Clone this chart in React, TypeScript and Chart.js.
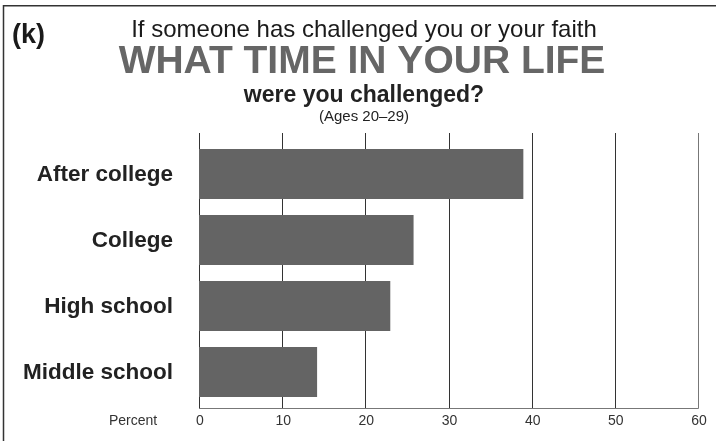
import React, { useEffect, useRef } from "react";
import { Chart, registerables } from "chart.js";

Chart.register(...registerables);

const categories = ["After college", "College", "High school", "Middle school"];
const percentValues = [39.0, 25.8, 23.0, 14.2];
const xTicks = [0, 10, 20, 30, 40, 50, 60];
const panelLabel = "(k)";
const titleLine1 = "If someone has challenged you or your faith";
const titleLine2 = "WHAT TIME IN YOUR LIFE";
const titleLine3 = "were you challenged?";
const titleLine4 = "(Ages 20\u201329)";
const axisName = "Percent";

const FONT = "'Liberation Sans', Arial, Helvetica, sans-serif";

const decorPlugin = {
  id: "decor",
  beforeDatasetsDraw(chart: any) {
    const ctx = chart.ctx;
    const xs = chart.scales.x;
    const area = chart.chartArea;
    const gridTop = area.top - 8;
    const axisY = area.bottom + 3.5;
    ctx.save();
    xTicks.forEach((v, i) => {
      const px = Math.round(xs.getPixelForValue(v)) + 0.5;
      ctx.strokeStyle = i === xTicks.length - 1 ? "#777" : "#333";
      ctx.lineWidth = 1;
      ctx.beginPath();
      ctx.moveTo(px, gridTop);
      ctx.lineTo(px, axisY);
      ctx.stroke();
    });
    ctx.strokeStyle = "#777";
    ctx.lineWidth = 1.2;
    ctx.beginPath();
    ctx.moveTo(xs.getPixelForValue(0), axisY);
    ctx.lineTo(xs.getPixelForValue(60) + 0.5, axisY);
    ctx.stroke();
    ctx.restore();
  },
  afterDraw(chart: any) {
    const ctx = chart.ctx;
    const W = chart.width;
    const H = chart.height;
    const xs = chart.scales.x;
    const ys = chart.scales.y;
    ctx.save();
    // frame
    ctx.strokeStyle = "#333";
    ctx.lineWidth = 1.5;
    ctx.beginPath();
    ctx.moveTo(3.5, H);
    ctx.lineTo(3.5, 5.75);
    ctx.lineTo(W, 5.75);
    ctx.stroke();

    const cx = 364;
    ctx.textAlign = "left";
    ctx.textBaseline = "alphabetic";
    ctx.fillStyle = "#1a1a1a";
    ctx.font = `bold 27px ${FONT}`;
    ctx.fillText(panelLabel, 12, 43);

    ctx.textAlign = "center";
    ctx.font = `24px ${FONT}`;
    ctx.fillText(titleLine1, cx, 37);

    ctx.fillStyle = "#666666";
    ctx.font = `bold 39px ${FONT}`;
    ctx.fillText(titleLine2, 362, 73);

    ctx.fillStyle = "#222";
    ctx.font = `bold 23px ${FONT}`;
    ctx.fillText(titleLine3, cx, 102);

    ctx.font = `15px ${FONT}`;
    ctx.fillText(titleLine4, cx, 121);

    // category labels
    ctx.textAlign = "right";
    ctx.textBaseline = "middle";
    ctx.fillStyle = "#222";
    ctx.font = `bold 22.5px ${FONT}`;
    categories.forEach((c, i) => {
      ctx.fillText(c, 173, ys.getPixelForTick(i) + 1);
    });

    // x tick labels
    ctx.textAlign = "center";
    ctx.fillStyle = "#333";
    ctx.font = `14px ${FONT}`;
    xTicks.forEach((v) => {
      ctx.fillText(String(v), xs.getPixelForValue(v) + 1, 421);
    });

    // axis name
    ctx.fillText(axisName, 133, 421);
    ctx.restore();
  },
};

export default function App() {
  const ref = useRef<HTMLCanvasElement | null>(null);

  useEffect(() => {
    document.body.style.margin = "0";
    const canvas = ref.current;
    if (!canvas) return;
    const chart = new Chart(canvas, {
      type: "bar",
      data: {
        labels: categories,
        datasets: [
          {
            data: percentValues,
            backgroundColor: "#646464",
            borderWidth: 0,
            barPercentage: 0.76,
            categoryPercentage: 1,
          },
        ],
      },
      options: {
        indexAxis: "y",
        animation: false,
        responsive: false,
        maintainAspectRatio: false,
        devicePixelRatio: 1,
        layout: { padding: { left: 0, top: 141, right: 18, bottom: 0 } },
        plugins: {
          legend: { display: false },
          title: { display: false },
          tooltip: { enabled: false },
        },
        scales: {
          x: {
            type: "linear",
            min: 0,
            max: 60,
            afterBuildTicks: (scale: any) => {
              scale.ticks = xTicks.map((v) => ({ value: v }));
            },
            afterFit: (scale: any) => {
              scale.height = 36;
            },
            grid: { display: false },
            border: { display: false },
            ticks: { display: false },
          },
          y: {
            afterFit: (scale: any) => {
              scale.width = 199;
            },
            grid: { display: false },
            border: { display: false },
            ticks: { display: false },
          },
        },
      },
      plugins: [decorPlugin],
    });
    return () => chart.destroy();
  }, []);

  return (
    <div style={{ width: 716, height: 441, position: "relative", background: "#fff" }}>
      <canvas ref={ref} width={716} height={441} style={{ width: 716, height: 441, display: "block" }} />
    </div>
  );
}
